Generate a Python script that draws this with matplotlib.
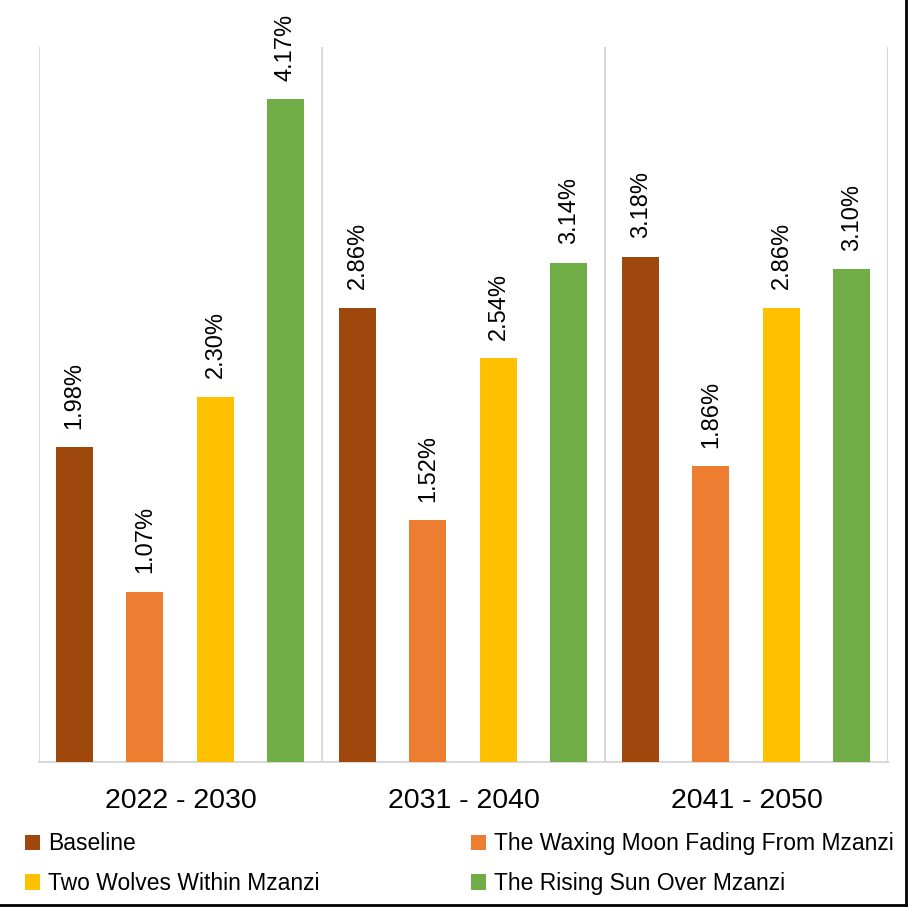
import matplotlib.pyplot as plt
from matplotlib.lines import Line2D

# Data
periods = ['2022 - 2030', '2031 - 2040', '2041 - 2050']
scenarios = ['Baseline', 'The Waxing Moon Fading From Mzanzi',
             'Two Wolves Within Mzanzi', 'The Rising Sun Over Mzanzi']
baseline = [1.98, 2.86, 3.18]
waxing_moon = [1.07, 1.52, 1.86]
two_wolves = [2.30, 2.54, 2.86]
rising_sun = [4.17, 3.14, 3.10]

series = [baseline, waxing_moon, two_wolves, rising_sun]
colors = ['#9E480E', '#ED7D31', '#FFC000', '#70AD47']
offsets = [-0.374, -0.126, 0.124, 0.372]

fig = plt.figure(figsize=(9.1, 9.08), dpi=100)
ax = fig.add_axes([39/910, 146/908, 849/910, 715/908])

bars_all = []
for vals, col, off, name in zip(series, colors, offsets, scenarios):
    xs = [i + off for i in range(len(periods))]
    bars = ax.bar(xs, vals, width=0.131, color=col, label=name, zorder=3)
    bars_all.append(bars)
    for b, v in zip(bars, vals):
        ax.annotate(f'{v:.2f}%', (b.get_x() + b.get_width() / 2, v),
                    xytext=(0, 13.5), textcoords='offset points',
                    rotation=90, ha='center', va='bottom',
                    fontsize=17, family=['Liberation Sans Narrow', 'Liberation Sans'])

ax.set_xlim(-0.5, 2.5)
ax.set_ylim(0, 4.5)
ax.set_yticks([])
ax.set_xticks(range(len(periods)))
ax.set_xticklabels(periods, fontsize=20.5, family='Liberation Sans')
ax.tick_params(axis='x', length=0, pad=19)

# separators between categories
for x in [-0.5, 0.5, 1.5, 2.5]:
    ax.axvline(x, color='#d9d9d9', lw=1.5, zorder=1)
for s in ['top', 'left', 'right']:
    ax.spines[s].set_visible(False)
ax.spines['bottom'].set_color('#d9d9d9')
ax.spines['bottom'].set_linewidth(1.5)

# legend, column-wise order
order = [0, 2, 1, 3]
handles = [bars_all[i] for i in order]
labels = [scenarios[i] for i in order]
fig.legend(handles, labels, ncol=2, loc='upper left',
           bbox_to_anchor=(14/910, 1 - 821/908),
           frameon=False, prop={'family': 'Liberation Sans', 'size': 16.5},
           handlelength=0.65, handleheight=0.65, handletextpad=0.35,
           columnspacing=6.6, labelspacing=0.72, borderpad=0)

# outer border (right and bottom)
fig.add_artist(Line2D([906/910, 906/910], [1, 3/908], color='black', lw=2,
                      transform=fig.transFigure))
fig.add_artist(Line2D([0, 906/910], [3/908, 3/908], color='black', lw=2,
                      transform=fig.transFigure))

plt.savefig('out.png', dpi=100)
